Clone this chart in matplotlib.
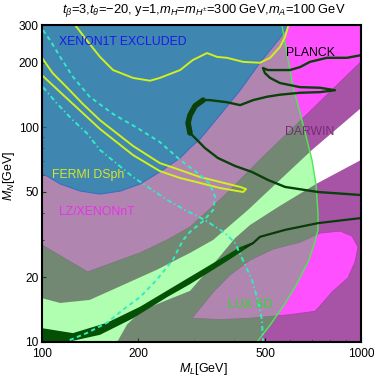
import matplotlib
matplotlib.use('Agg')
import matplotlib.pyplot as plt
from matplotlib.ticker import FixedLocator, FixedFormatter, NullFormatter, LogLocator

plt.rcParams['font.family'] = ['Liberation Sans', 'DejaVu Sans']
plt.rcParams['mathtext.fontset'] = 'custom'
plt.rcParams['mathtext.rm'] = 'Liberation Sans'
plt.rcParams['mathtext.it'] = 'Liberation Sans:italic'
plt.rcParams['mathtext.bf'] = 'Liberation Sans:bold'

# ---------------- data (M_L [GeV], M_N [GeV]) ----------------
# XENON1T excluded region: lower boundary
xenon1t_ML = [100, 114, 132, 152, 176, 203, 234, 271, 291, 313, 361, 418, 482, 557, 595]
xenon1t_MN = [61.3, 54.5, 50.5, 48.9, 50.5, 54.5, 62.0, 72.0, 80.2, 88.3, 114, 149, 200, 261, 300]

# LZ/XENONnT reach: lower boundary of the upper region
lz_ML = [100, 139, 203, 247, 291, 375, 482, 644, 1000]
lz_MN = [28.3, 21.2, 26.0, 29.9, 34.3, 48.4, 70.5, 107, 202]

# LZ/XENONnT reach: lower-right island
lz_blob_ML = [295, 344, 388, 449, 530, 644, 744, 860, 937, 979, 958, 911, 812, 744, 718, 599, 449, 361]
lz_blob_MN = [12.9, 17.1, 20.5, 24.1, 27.1, 29.2, 32.2, 32.9, 31.2, 27.7, 23.6, 19.9, 17.1, 14.7, 13.9, 13.4, 12.9, 12.7]

# region beyond DARWIN reach (white band)
band_up_ML = [100, 114, 141, 179, 229, 291, 344, 442, 557, 702, 1000]
band_up_MN = [16.0, 15.2, 15.7, 18.4, 21.7, 26.0, 29.9, 41.2, 56.9, 78.5, 123]
band_lo_ML = [1000, 723, 550, 449, 403, 349, 291, 247, 207, 185, 172, 100]
band_lo_MN = [70.5, 54.5, 42.6, 35.1, 30.5, 23.6, 17.3, 15.7, 14.1, 12.1, 10, 10]

# LUX SD boundary (excluded to the left)
lux_ML = [565, 586, 612, 644, 677, 702, 723, 733, 733, 712, 682, 626, 574, 519, 472]
lux_MN = [300, 222, 154, 117, 87.4, 70.5, 53.9, 39.9, 33.3, 28.3, 23.6, 18.4, 14.9, 12.0, 10]

# PLANCK relic density: thick band at low mass
planck_band_up_ML = [100, 125, 160, 203, 257, 329, 418, 459]
planck_band_up_MN = [11.6, 11.0, 12.3, 14.6, 18.0, 22.4, 27.7, 29.2]
planck_band_lo_ML = [459, 380, 291, 247, 193, 152, 120, 100]
planck_band_lo_MN = [28.6, 23.8, 18.6, 16.2, 12.9, 10.8, 10, 10]
# PLANCK lower contour line
planck_low_ML = [433, 459, 482, 578, 733, 1000]
planck_low_MN = [27.7, 28.9, 30.9, 33.3, 35.8, 37.8]
# PLANCK upper contour line
planck_up_ML = [1000, 904, 782, 692, 644, 599, 557, 511, 493, 500, 519, 557, 644, 744, 829, 744, 644, 557,
                508, 459, 418, 380, 336, 320, 302, 291, 287, 291, 302, 324, 356, 403, 455, 511, 578, 733, 1000]
planck_up_MN = [217, 211, 211, 202, 191, 185, 185, 185, 189, 179, 170, 161, 154, 153, 149, 146, 145, 142,
                139, 134, 127, 131, 134, 134, 126, 114, 105, 94.2, 89.2, 80.2, 72.0, 66.1, 62.0, 56.9, 52.8, 50.0, 48.4]
planck_knot_ML = [320, 302, 291, 287, 291]
planck_knot_MN = [134, 126, 114, 105, 94.2]

# FERMI dSph contours
fermi1_ML = [127, 138, 152, 167, 193, 218, 234, 271, 297, 329, 354, 380, 427, 482, 519, 557, 578, 590, 595]
fermi1_MN = [300, 255, 213, 185, 170, 165, 170, 185, 206, 222, 213, 211, 202, 200, 211, 237, 264, 294, 300]
fermi2_ML = [100, 108, 120, 134, 152, 193, 234, 271, 313, 361, 418, 436,
             427, 361, 313, 271, 234, 193, 152, 120, 100]
fermi2_MN = [211, 179, 153, 129, 108, 81.9, 68.2, 63.3, 58.7, 55.7, 52.8, 51.6,
             50.0, 52.2, 55.1, 58.1, 62.6, 74.3, 98.3, 136, 175]

# cyan contours
cyan1_ML = [100.7, 106, 114, 125, 141, 167, 199, 234, 271, 313, 336, 349, 344, 320, 291, 277,
            257, 229, 203, 179, 160, 138, 122, 120]
cyan1_MN = [284, 255, 213, 172, 139, 115.5, 99.4, 85.5, 70.5, 60.0, 54.5, 47.4, 41.2, 36.6, 32.6, 29.9,
            24.1, 19.5, 16.2, 14.1, 12.3, 11.0, 10.2, 10]
cyan2_ML = [100.7, 111, 125, 138, 152, 193, 247, 281, 324, 375, 403, 433, 455, 475, 489, 493]
cyan2_MN = [154, 130, 108, 94.2, 78.5, 58.7, 45.9, 41.2, 37.0, 32.2, 28.9, 22.9, 19.5, 15.7, 12.7, 10]

x_ticks = [100, 200, 500, 1000]
x_ticklabels = ['100', '200', '500', '1000']
y_ticks = [10, 20, 50, 100, 200, 300]
y_ticklabels = ['10', '20', '50', '100', '200', '300']

title = r'$t_\beta$=3,$t_\theta$=−20, y=1,$m_H$=$m_{H^{\pm}}$=300 GeV,$m_A$=100 GeV'

# ---------------- drawing ----------------
fig = plt.figure(figsize=(3.74, 3.79), dpi=100)
ax = fig.add_axes([42 / 374, 37 / 379, 319 / 374, 317 / 379])
ax.set_xscale('log')
ax.set_yscale('log')
ax.set_xlim(100, 1000)
ax.set_ylim(10, 300)

DARWIN_C = '#A754A7'
MAGENTA = '#FF50FF'
ax.set_facecolor(DARWIN_C)

# LZ/XENONnT
ax.fill(lz_ML + [1000, 100], lz_MN + [300, 300], color=MAGENTA, lw=0, zorder=1)
ax.plot(lz_ML, lz_MN, color='#B040B0', lw=0.7, zorder=1.1)
ax.fill(lz_blob_ML, lz_blob_MN, facecolor=MAGENTA, edgecolor='#B040B0', lw=0.7, zorder=1)

# white band
ax.fill(band_up_ML + band_lo_ML, band_up_MN + band_lo_MN, color='white', lw=0, zorder=2)

# LUX SD overlay
ax.fill(lux_ML + [100, 100], lux_MN + [10, 300], color=(0, 1, 0), alpha=0.31, lw=0, zorder=3)

# XENON1T
ax.fill(xenon1t_ML + [100], xenon1t_MN + [300], color=(0.02, 0.525, 0.69), alpha=0.66, lw=0, zorder=4)
ax.plot(xenon1t_ML, xenon1t_MN, color='#3A6FC0', lw=0.8, zorder=4.1)

# LUX line
ax.plot(lux_ML, lux_MN, color='#4CEB4C', lw=1.0, zorder=5)

# PLANCK
ax.fill(planck_band_up_ML + planck_band_lo_ML, planck_band_up_MN + planck_band_lo_MN,
        color='#045004', lw=0, zorder=6)
ax.plot(planck_low_ML, planck_low_MN, color='#0A3A0A', lw=1.6, zorder=6)
ax.plot(planck_up_ML, planck_up_MN, color='#0A400A', lw=1.7, zorder=6, solid_joinstyle='round')
ax.plot(planck_knot_ML, planck_knot_MN, color='#0A400A', lw=4.0, zorder=6, solid_capstyle='round')

# FERMI
ax.plot(fermi1_ML, fermi1_MN, color='#D2F01E', lw=1.4, zorder=7)
ax.plot(fermi2_ML, fermi2_MN, color='#D2F01E', lw=1.4, zorder=7)

# cyan
ax.plot(cyan1_ML, cyan1_MN, color='#33EBC4', lw=1.4, linestyle=(0, (2.2, 1.8)), zorder=7)
ax.plot(cyan2_ML, cyan2_MN, color='#33EBC4', lw=1.4, linestyle=(0, (2.5, 1.5, 0.7, 1.5)), zorder=7)

# labels
fs = 8.8
ax.text(0.254, 0.946, 'XENON1T EXCLUDED', color='#1A1AE6', fontsize=fs, ha='center', va='center', transform=ax.transAxes, zorder=8)
ax.text(0.144, 0.527, 'FERMI DSph', color='#D8E628', fontsize=fs, ha='center', va='center', transform=ax.transAxes, zorder=8)
ax.text(0.172, 0.410, 'LZ/XENONnT', color='#E632E6', fontsize=fs, ha='center', va='center', transform=ax.transAxes, zorder=8)
ax.text(0.840, 0.912, 'PLANCK', color='black', fontsize=fs, ha='center', va='center', transform=ax.transAxes, zorder=8)
ax.text(0.840, 0.662, 'DARWIN', color='#7A2A7A', fontsize=fs, ha='center', va='center', transform=ax.transAxes, zorder=8)
ax.text(0.652, 0.117, 'LUX SD', color='#22E022', fontsize=fs, ha='center', va='center', transform=ax.transAxes, zorder=8)

# axes styling
ax.xaxis.set_major_locator(FixedLocator(x_ticks))
ax.xaxis.set_major_formatter(FixedFormatter(x_ticklabels))
ax.yaxis.set_major_locator(FixedLocator(y_ticks))
ax.yaxis.set_major_formatter(FixedFormatter(y_ticklabels))
ax.xaxis.set_minor_locator(LogLocator(base=10, subs=range(2, 10)))
ax.yaxis.set_minor_locator(LogLocator(base=10, subs=range(2, 10)))
ax.xaxis.set_minor_formatter(NullFormatter())
ax.yaxis.set_minor_formatter(NullFormatter())
ax.tick_params(which='major', direction='in', length=3, width=0.8, labelsize=8.6)
ax.tick_params(axis='x', which='major', pad=4.5)
ax.tick_params(axis='y', which='major', pad=2.5)
ax.tick_params(which='minor', direction='in', length=1.5, width=0.6)
for s in ax.spines.values():
    s.set_linewidth(1.5)
    s.set_zorder(10)

fig.text(0.545, 0.972, title, ha='center', va='center', fontsize=9.3)
fig.text(0.543, 0.026, r'$M_L$[GeV]', ha='center', va='center', fontsize=9)
fig.text(0.024, 0.536, r'$M_N$[GeV]', ha='center', va='center', fontsize=9, rotation=90)

fig.savefig('out.png', dpi=100)
